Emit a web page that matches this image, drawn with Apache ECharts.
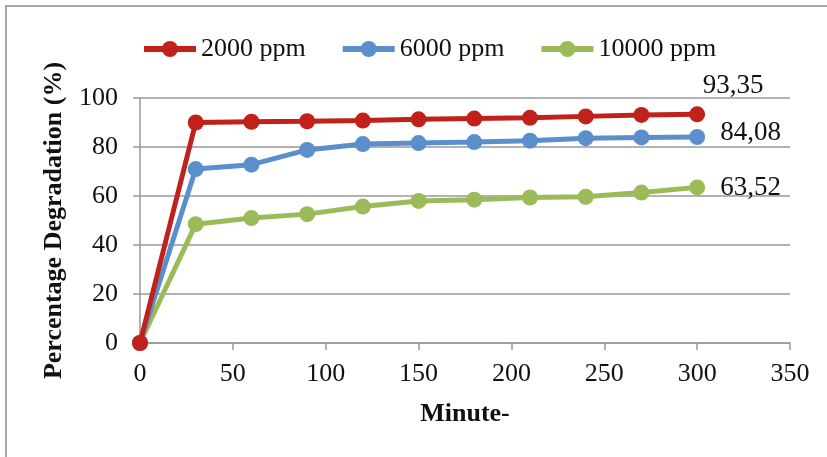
<!DOCTYPE html>
<html><head><meta charset="utf-8">
<script src="https://cdn.jsdelivr.net/npm/echarts@6/dist/echarts.min.js"></script>
<style>html,body{margin:0;padding:0;background:#fff}#c{width:827px;height:457px}</style>
</head><body><div id="c"></div>
<script>
var minutes = [0, 30, 60, 90, 120, 150, 180, 210, 240, 270, 300];
var s2000 = [0, 90.0, 90.3, 90.5, 90.8, 91.3, 91.6, 91.9, 92.5, 93.1, 93.35];
var s6000 = [0, 71.0, 72.8, 78.8, 81.2, 81.6, 82.0, 82.6, 83.6, 83.9, 84.08];
var s10000 = [0, 48.5, 51.0, 52.6, 55.7, 58.0, 58.5, 59.4, 59.7, 61.4, 63.52];
var names = ['2000 ppm', '6000 ppm', '10000 ppm'];
var colors = ['#c0211a', '#5b8fcc', '#9bbb59'];
var font = 'Liberation Serif';

function pairs(v){ return minutes.map(function(m,i){ return [m, v[i]]; }); }
function fmt(v){ return v.toFixed(2).replace('.', ','); }

function mk(idx, vals, pos, labelOffset){
  var data = pairs(vals);
  var last = data.length - 1;
  data[last] = {value: data[last], label: {show: true, position: pos, offset: labelOffset,
    formatter: function(p){ return fmt(p.value[1]); }, fontFamily: font, fontSize: 27, color: '#111'}};
  return {
    name: names[idx], type: 'line', data: data, color: colors[idx],
    symbol: 'circle', symbolSize: 16,
    lineStyle: {width: 5, color: colors[idx]},
    itemStyle: {color: colors[idx]},
    z: 10 - idx
  };
}

var chart = echarts.init(document.getElementById('c'));
chart.setOption({
  animation: false,
  backgroundColor: '#fff',
  graphic: [{type: 'rect', shape: {x: 6, y: 6, width: 840, height: 470}, style: {fill: 'none', stroke: '#a6a6a6', lineWidth: 2}, silent: true}],
  legend: {
    top: 31, left: 136, itemGap: 34, itemWidth: 52, itemHeight: 20,
    data: names,
    lineStyle: {width: 6},
    textStyle: {fontFamily: font, fontSize: 26, color: '#111'}
  },
  grid: {left: 140, right: 37, top: 98, bottom: 114},
  xAxis: {
    type: 'value', min: 0, max: 350, interval: 50,
    name: 'Minute-', nameLocation: 'middle', nameGap: 58,
    nameTextStyle: {fontFamily: font, fontSize: 26, fontWeight: 'bold', color: '#111'},
    axisLine: {show: true, lineStyle: {color: '#999', width: 1.5}},
    axisTick: {show: true, length: 7, lineStyle: {color: '#999', width: 1.5}},
    axisLabel: {fontFamily: font, fontSize: 26, color: '#111', margin: 18},
    splitLine: {show: false}
  },
  yAxis: {
    type: 'value', min: 0, max: 100, interval: 20,
    name: 'Percentage Degradation (%)', nameLocation: 'middle', nameGap: 73, nameRotate: 90,
    nameTextStyle: {fontFamily: font, fontSize: 26, fontWeight: 'bold', color: '#111'},
    axisLine: {show: true, lineStyle: {color: '#999', width: 1.5}},
    axisTick: {show: true, length: 7, lineStyle: {color: '#999', width: 1.5}},
    axisLabel: {fontFamily: font, fontSize: 26, color: '#111', margin: 22},
    splitLine: {show: true, lineStyle: {color: '#999', width: 1.5}}
  },
  series: [mk(0, s2000, 'top', [36, -2]), mk(1, s6000, 'right', [10, -4]), mk(2, s10000, 'right', [10, 1])]
});
</script></body></html>
